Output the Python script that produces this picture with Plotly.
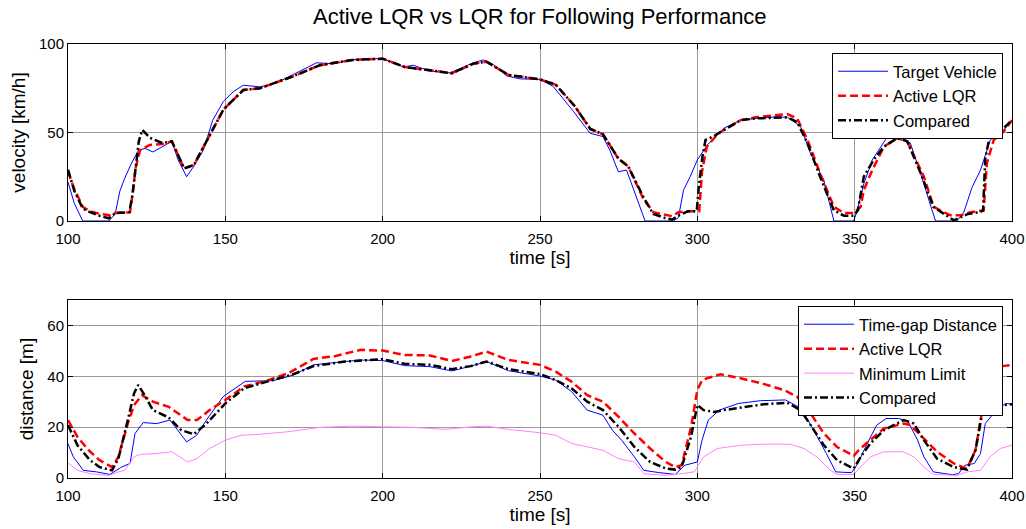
import plotly.graph_objects as go

# ---------------- data ----------------
# Top panel: velocity [km/h]  (time, value)
target_vehicle_v = [(100,22),(102,10),(104.7,0),(109,0),(113,0),(115,4),(116.5,17),(118,24),(120,32),
    (122.4,40),(124.5,41),(127,39),(130,42),(133,45),(135,34.5),(137.7,25),(140,31),(143,40),(146,57),
    (149.4,67.6),(152.5,73),(155.7,76.7),(161,75.8),(166.3,78),(171.6,82.8),(175.8,86.5),(179,89.4),
    (184.3,88.8),(189.6,91),(194.9,91.7),(200,91.7),(206.6,87),(209.7,88),(215,84.7),(221.4,83.7),
    (228.8,89.4),(232,91),(235.2,88.4),(239.4,82),(243.6,80.3),(250,80),(254.2,76),(260.6,62),
    (265.9,49.6),(270,47.7),(272.2,40),(274.9,27.8),(277.5,28.8),(280.7,13.6),(283.4,0),(292.4,0),
    (294,2),(295.6,17.4),(297.7,25),(300,34.5),(303.2,43),(308.5,52.5),(313.8,57),(319,58),(324.3,58.7),
    (328.6,58.7),(332.8,53.4),(336,38),(340.2,23),(343.4,0),(349.7,0),(350.8,6),(352.9,21),(355.6,34.5),
    (358.2,42),(360.8,48.7),(364.6,47.7),(367.7,44),(370.9,27),(375.7,0),(382.5,0),(384.7,5),(387.3,19),
    (390,28.8),(393.1,45.8),(397.4,51.5),(400,57)]

active_lqr_v = [(100,28),(102,18),(104.7,8),(107,5.5),(109,4.5),(113.3,3.2),(115,4.5),(119.7,5),
    (120.5,15),(121.5,30),(122.9,40),(126,43),(130,43.5),(133,45),(136.9,29.7),(140,31.6),(144,45),
    (149.4,63),(155.7,74),(161,75),(171.6,81.8),(180,88),(190.5,91),(200,91.7),(207,87),(215,85),
    (222,83.5),(229,89),(233,90),(240,82.5),(250,80),(255,77),(261,65),(266,52),(270,49),(275,35),
    (278,31),(283,12),(286,5),(292,2.7),(294,5),(298,5.5),(300.6,5.5),(301.5,28),(303,42),(306.7,49.6),
    (308.5,51.5),(313.8,57),(319,58.7),(328.6,60.4),(331.7,58),(335,45.8),(339,27),(343.4,8),
    (346.6,4.5),(349.7,4.5),(351.9,8),(352.9,17.4),(355.6,28.8),(359.3,42),(363.5,46.8),(366.7,45),
    (372,25),(375.1,8),(380.4,3.2),(383.6,3.2),(386.8,5),(391,6),(392,32.6),(394.2,45.8),(397.4,50.6),
    (400,57)]

compared_v = [(100,29),(102,17),(104.7,7),(107,5),(110,3),(113,1.5),(115,4.5),(119.5,5),(120.5,15),
    (121.5,32),(122.5,45),(123.6,51.5),(126,47),(130,44),(133,45),(136.9,29.7),(140,31.6),(144,45),
    (149.4,63),(155.7,74),(161,75),(171.6,81.8),(180,88),(190.5,91),(200,91.7),(207,87),(215,85),
    (222,83.5),(229,89),(233,90),(240,82.5),(250,80),(255,77),(261,65),(266,52),(270,49),(275,35),
    (278,31),(283,13),(286,4),(290,1.5),(292,0.8),(294,3),(297,5.5),(299.8,5.5),(300.5,20),(301.6,36),
    (302.6,45.8),(305,47.7),(308.5,51.5),(313.8,57),(319,58),(328.6,58.5),(331.7,56),(335,44),(339,25),
    (343.4,6),(346.6,3),(349.7,3),(351,6),(352.9,25),(356,34.5),(359.3,42),(363.5,46.8),(366.7,45),
    (371,27),(375,8),(381.5,0.4),(386,4),(389.8,5),(390.8,6),(391.5,35),(393.1,49.6),(397.4,52.5),
    (400,57)]

# Bottom panel: distance [m]  (time, value)
timegap_d = [(100,13.5),(101.7,8.3),(104.9,3),(109.1,2.4),(113.3,1.4),(115.5,3),(117,4.3),(119.7,5.7),
    (121.3,17.5),(123.9,21.8),(128.2,21.4),(132.4,22.8),(135,18.8),(137.7,14.2),(140.9,16.8),(144,22.8),
    (149.3,32),(156.3,38),(165.3,38.3),(171.6,40.5),(178,44.5),(187.5,45.8),(192.8,46.4),(200,46.2),
    (207,44.2),(215,43.8),(222,42.1),(228,44),(233,45.8),(240,42.2),(250,40.1),(255,38.5),(260,34),
    (265,26.7),(270,24.7),(273,18.8),(276,14.8),(280,8.3),(283,3),(288,2.1),(293,1.4),(296,5),(300,6.3),
    (301.5,14.9),(303.5,22.8),(307,26.7),(313,29.3),(320,30.4),(328,30.7),(333,27.4),(337,18.8),
    (341,9.6),(344,2.4),(349,2.1),(351,5.7),(354,13.6),(357,20.8),(360,23.4),(364,23.4),(367,22.1),
    (370,14.9),(372,8.3),(375,2.4),(381,1.3),(383,1.7),(385,5),(388,5.7),(390,9.6),(391.5,21.4),
    (395,26.7),(398,29.3),(400,29)]

active_lqr_d = [(100,22.8),(103,16.2),(106.5,11),(110,7),(114,4.3),(116,8.3),(119,21.4),(121,28.7),
    (123.5,32.6),(127,30),(132,28),(138,22.8),(141,22.8),(145,26.7),(150,30.7),(156,36),(163,38.2),
    (170,41.2),(178,46.8),(185,48),(193,50.4),(200,50.1),(207,48.4),(215,48.2),(222,46),(228,47.8),
    (233,49.7),(240,46.4),(250,44.5),(255,41.8),(260,37.9),(265,32.6),(270,30),(275,24),(280,17.5),
    (285,11.6),(290,6.3),(293,4.3),(295,5),(298,20),(300,34.6),(301.5,38.5),(303,39.2),(307.4,40.8),
    (313.8,39.2),(321,37),(327.5,34.6),(331.7,32),(336,25.4),(340.2,17.5),(344.4,12.2),(349.7,8.7),
    (351.3,11),(355,14.9),(359.3,19.5),(365.6,21.4),(367.7,20.8),(372,15.5),(376.2,10.3),(381.5,5.7),
    (385.7,3.7),(388.4,11),(390.5,26.7),(392,37.2),(394,42),(397,44),(400,44.5)]

minimum_limit_d = [(100,5.9),(103,3),(107,1.7),(113,1),(116,2.4),(118,3),(121,8.3),(123,9.3),(128,9.6),
    (133,10.3),(138,6.3),(141,7.6),(145,11.6),(150,14.9),(155,16.8),(160,17.1),(170,18.2),(180,19.9),
    (190,20.4),(200,20.1),(210,19.9),(220,19.1),(228,20.1),(233,20.4),(240,19.1),(250,17.8),(255,16.8),
    (260,13.6),(265,12.2),(270,10.9),(275,7.6),(280,6.3),(283,1.7),(290,1),(295,1.7),(299,2.4),(302,8.3),
    (306.3,11.6),(313.8,12.9),(321,13.3),(329.6,13.3),(333.9,11.6),(338,8.3),(342.3,3),(344.4,1.4),
    (349.7,1.4),(351.9,4.3),(355,8.3),(359.3,10.3),(365.6,10.3),(368.8,8.3),(372,4.3),(375,1.4),
    (382.5,1),(385.7,2.4),(390,3),(393,8.3),(396.3,11.6),(400,12.9)]

compared_d = [(100,20.8),(103,12.9),(107,7),(110,4.3),(114,3),(116,7.6),(119,22.8),(121,33.3),
    (122.3,36.6),(124,33.3),(127,26.7),(132,23.8),(136,18.8),(140,17.2),(144,21.4),(150,29.3),
    (156,35.3),(165,38.6),(172,41),(178,44),(188,45.8),(200,46.7),(207,44.9),(215,44.5),(222,42.8),
    (228,44),(233,45.8),(240,42.8),(250,40.9),(255,38.5),(260,35.3),(265,30),(270,26.7),(275,20.1),
    (280,12.2),(285,6.3),(290,3.7),(293,3.3),(295,4.3),(298,16.2),(300,28.7),(302,26.7),(305.3,26),
    (308.5,26.7),(313.8,27.8),(321,29),(328.6,29.6),(332.8,26.7),(336,20.8),(340.2,12.9),(344.4,7),
    (349.7,3.7),(351.9,8.3),(355,13.6),(359.3,18.8),(365.6,22.8),(368.8,21.4),(372,14.9),(376.2,7.6),
    (381.5,4.3),(385.7,3.3),(388.4,11),(390.5,25.4),(393,28),(400,29)]

x_ticks = [100, 150, 200, 250, 300, 350, 400]
v_ticks = [0, 50, 100]
d_ticks = [0, 20, 40, 60]

title_text = "Active LQR vs LQR for Following Performance"

# ---------------- figure ----------------
FONT = "Arial, Liberation Sans, sans-serif"
W, H = 1026, 529

def xs(p): return [a for a, _ in p]
def ys(p): return [b for _, b in p]

fig = go.Figure()

def add(series, name, color, width, dash, xa, ya, legend):
    fig.add_trace(go.Scatter(x=xs(series), y=ys(series), mode="lines", name=name,
                             line=dict(color=color, width=width, dash=dash),
                             xaxis=xa, yaxis=ya, legend=legend))

DASH = "8px,4px"
DASHDOT = "8px,3px,2px,3px"
add(target_vehicle_v, "Target Vehicle", "#0000ff", 1, "solid", "x", "y", "legend")
add(active_lqr_v, "Active LQR", "#ff0000", 2.5, DASH, "x", "y", "legend")
add(compared_v, "Compared", "#000000", 2.5, DASHDOT, "x", "y", "legend")

add(timegap_d, "Time-gap Distance", "#0000ff", 1, "solid", "x2", "y2", "legend2")
add(active_lqr_d, "Active LQR", "#ff0000", 2.5, DASH, "x2", "y2", "legend2")
add(minimum_limit_d, "Minimum Limit", "#ff80ff", 1, "solid", "x2", "y2", "legend2")
add(compared_d, "Compared", "#000000", 2.5, DASHDOT, "x2", "y2", "legend2")

xdom = [68 / W, 1012 / W]
ydom_top = [1 - 221 / H, 1 - 44 / H]
ydom_bot = [1 - 478 / H, 1 - 300 / H]

axis_common = dict(showline=True, linecolor="black", linewidth=1, mirror="ticks",
                   ticks="inside", ticklen=5, tickcolor="black", automargin=False,
                   showgrid=True, gridcolor="#9a9a9a", gridwidth=1, zeroline=False,
                   tickfont=dict(family=FONT, size=15, color="black"))

LABEL = dict(family=FONT, size=19, color="black")

fig.update_layout(
    width=W, height=H, margin=dict(l=0, r=0, t=0, b=0),
    paper_bgcolor="white", plot_bgcolor="white",
    font=dict(family=FONT, color="black"),
    xaxis=dict(domain=xdom, anchor="y", range=[100, 400], tickvals=x_ticks, ticklabelstandoff=4,
               title=dict(text="time [s]", font=LABEL, standoff=2), **axis_common),
    yaxis=dict(domain=ydom_top, anchor="x", range=[0, 100], tickvals=v_ticks,
               title=dict(text="velocity [km/h]", font=LABEL, standoff=8), **axis_common),
    xaxis2=dict(domain=xdom, anchor="y2", range=[100, 400], tickvals=x_ticks, ticklabelstandoff=4,
                title=dict(text="time [s]", font=LABEL, standoff=2), **axis_common),
    yaxis2=dict(domain=ydom_bot, anchor="x2", range=[0, 70], tickvals=d_ticks,
                title=dict(text="distance [m]", font=LABEL, standoff=8), **axis_common),
    legend=dict(x=1003 / W, y=1 - 53 / H, xanchor="right", yanchor="top",
                bgcolor="white", bordercolor="black", borderwidth=1,
                font=dict(family=FONT, size=16.5, color="black"), itemwidth=50,
                tracegroupgap=0),
    legend2=dict(x=1003 / W, y=1 - 306 / H, xanchor="right", yanchor="top",
                 bgcolor="white", bordercolor="black", borderwidth=1,
                 font=dict(family=FONT, size=16.5, color="black"), itemwidth=50,
                 tracegroupgap=0),
    showlegend=True,
)

fig.add_annotation(text=title_text, xref="paper", yref="paper",
                   x=540 / W, y=1 - 17 / H, xanchor="center", yanchor="middle",
                   showarrow=False, font=dict(family=FONT, size=22, color="black"))

fig.write_html("out.html", config={"displayModeBar": False},
               post_script="document.body.style.margin='0px';")
